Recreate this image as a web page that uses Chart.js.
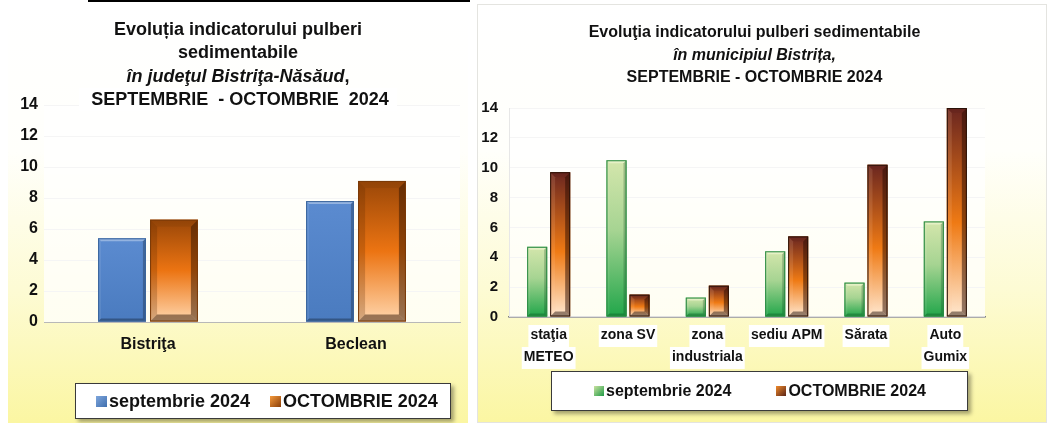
<!DOCTYPE html>
<html>
<head>
<meta charset="utf-8">
<script src="https://cdn.jsdelivr.net/npm/chart.js@4.4.1/dist/chart.umd.min.js"></script>
<style>
  html,body{margin:0;padding:0;background:#fff;width:1047px;height:423px;overflow:hidden;font-family:"Liberation Sans",Arial,sans-serif;}
  .panel{position:absolute;overflow:hidden;background:linear-gradient(to bottom,#ffffff 0%,#fffffb 35%,#fdfbd4 68%,#fbf6a2 100%);}
  #pl{left:8px;top:6px;width:460px;height:417px;}
  #pr{left:477px;top:4px;width:570px;height:419px;box-shadow:inset 0 0 0 1px #e4e4e0;}
  .cw{position:absolute;left:0;top:0;width:100%;height:100%;}
  .title{position:absolute;text-align:center;font-weight:bold;color:#111;}
  #tl{left:0;top:12px;width:460px;font-size:18px;line-height:23.3px;}
  #tr{left:0;top:17px;width:555px;font-size:16px;line-height:22.5px;}
  .title i{font-style:italic;}
  .wb{display:inline-block;background:#fff;padding:0 8px 0 12px;}
  .legend{position:absolute;background:#fff;border:1px solid #3a3a3a;box-shadow:3px 3px 4px rgba(0,0,0,0.35);display:flex;align-items:center;font-weight:bold;color:#111;box-sizing:border-box;}
  #ll{left:67px;top:377px;width:376px;height:36px;font-size:18px;padding-left:20px;}
  #lr{left:74px;top:367px;width:417px;height:40px;font-size:16px;padding-left:42px;}
  .mk{display:inline-block;margin-right:2px;}
  #ll .mk{width:11px;height:11px;}
  #lr .mk{width:10px;height:10px;}
  .m-blue{background:linear-gradient(135deg,#7ea6dc,#3f6fae);}
  .m-org{background:linear-gradient(135deg,#f59a3c,#8a3e08);}
  .m-grn{background:linear-gradient(135deg,#c9e2a0,#1f9a45);}
  .m-org2{background:linear-gradient(135deg,#f08a2a,#5a2418);}
  #topline{position:absolute;left:88px;top:0;width:382px;height:2px;background:#000;}
</style>
</head>
<body>
<div id="topline"></div>
<div class="panel" id="pl">
  <div class="cw"><canvas id="cl"></canvas></div>
  <div class="title" id="tl">Evoluția indicatorului pulberi<br>sedimentabile<br><i>în judeţul Bistriţa-Năsăud</i>,<br><span class="wb">SEPTEMBRIE&nbsp; - OCTOMBRIE&nbsp; 2024</span></div>
  <div class="legend" id="ll"><span class="mk m-blue"></span>septembrie 2024<span style="width:20px"></span><span class="mk m-org"></span>OCTOMBRIE 2024</div>
</div>
<div class="panel" id="pr">
  <div class="cw"><canvas id="cr"></canvas></div>
  <div class="title" id="tr">Evoluţia indicatorului pulberi sedimentabile<br><i>în municipiul Bistrița,</i><br>SEPTEMBRIE - OCTOMBRIE 2024</div>
  <div class="legend" id="lr"><span class="mk m-grn"></span>septembrie 2024<span style="width:45px"></span><span class="mk m-org2"></span>OCTOMBRIE 2024</div>
</div>
<script>
// ---- data ----
const leftCategories = ['Bistriţa', 'Beclean'];
const leftSeptembrie = [5.4, 7.8];
const leftOctombrie = [6.6, 9.1];

const rightCategories = [['staţia', 'METEO'], 'zona SV', ['zona', 'industriala'], 'sediu APM', 'Sărata', ['Auto', 'Gumix']];
const rightSeptembrie = [4.7, 10.5, 1.3, 4.4, 2.3, 6.4];
const rightOctombrie = [9.7, 1.5, 2.1, 5.4, 10.2, 14.0];

const seriesNames = ['septembrie 2024', 'OCTOMBRIE 2024'];
const yMin = 0, yMax = 14, yStep = 2;

// ---- styles ----
const styleBlue = {stops: [[0, '#5b8bd0'], [1, '#4a7bbf']], bevel: 3,
  top: 'rgba(255,255,255,0.35)', left: 'rgba(255,255,255,0.08)', right: 'rgba(0,0,0,0.25)', bottom: 'rgba(0,0,0,0.3)', border: '#3b659c'};
const styleOrangeL = {stops: [[0, '#9a4708'], [0.5, '#ec7412'], [1, '#ffd6ad']], bevel: 7,
  top: 'rgba(0,0,0,0.05)', left: 'rgba(90,40,0,0.25)', right: 'rgba(50,20,0,0.5)', bottom: 'rgba(70,40,20,0.55)', border: '#7a3a08'};
const styleGreen = {stops: [[0, '#d4e6ac'], [0.45, '#a6d492'], [1, '#21a64a']], bevel: 3,
  top: 'rgba(255,255,230,0.45)', left: 'rgba(255,255,255,0.08)', right: 'rgba(0,60,20,0.25)', bottom: 'rgba(0,40,10,0.25)', border: '#2b8a43'};
const styleOrangeR = {stops: [[0, '#6a2620'], [0.55, '#ef7a14'], [1, '#ffe8d0']], bevel: 5,
  top: 'rgba(0,0,0,0.05)', left: 'rgba(255,200,160,0.15)', right: 'rgba(40,10,0,0.5)', bottom: 'rgba(60,40,30,0.55)', border: '#2a1208'};

const bevelPlugin = {
  id: 'bevel',
  beforeDatasetsDraw(chart) {
    const a = chart.chartArea, ctx = chart.ctx;
    ctx.save();
    ctx.fillStyle = 'rgba(255,255,255,0.75)';
    ctx.fillRect(a.left, a.top, a.right - a.left, a.bottom - a.top);
    ctx.restore();
  },
  afterDatasetsDraw(chart) {
    const ctx = chart.ctx;
    const poly = (pts, c) => {ctx.beginPath(); ctx.moveTo(pts[0][0], pts[0][1]); for (let i = 1; i < pts.length; i++) ctx.lineTo(pts[i][0], pts[i][1]); ctx.closePath(); ctx.fillStyle = c; ctx.fill();};
    chart.data.datasets.forEach((ds, i) => {
      const st = ds.bevelStyle; if (!st) return;
      chart.getDatasetMeta(i).data.forEach(el => {
        const p = el.getProps(['x', 'y', 'base', 'width'], true);
        const l = p.x - p.width / 2, r = p.x + p.width / 2, t = Math.min(p.y, p.base), b = Math.max(p.y, p.base);
        const h = b - t, w = p.width;
        ctx.save();
        const g = ctx.createLinearGradient(0, t, 0, b);
        st.stops.forEach(s => g.addColorStop(s[0], s[1]));
        ctx.fillStyle = g; ctx.fillRect(l, t, w, h);
        const k = Math.min(st.bevel, w / 4, h / 2);
        poly([[l, t], [r, t], [r - k, t + k], [l + k, t + k]], st.top);
        poly([[l, t], [l + k, t + k], [l + k, b - k], [l, b]], st.left);
        poly([[r, t], [r, b], [r - k, b - k], [r - k, t + k]], st.right);
        poly([[l, b], [l + k, b - k], [r - k, b - k], [r, b]], st.bottom);
        ctx.strokeStyle = st.border; ctx.lineWidth = 1;
        ctx.strokeRect(l + 0.5, t + 0.5, w - 1, h - 1);
        ctx.restore();
      });
    });
  }
};

// white boxes behind each line of the x-axis labels (drawn before the scale text)
const labelBackdropPlugin = {
  id: 'labelBackdrop',
  beforeDraw(chart, args, opts) {
    if (!opts || !opts.enabled) return;
    const sc = chart.scales.x, ctx = chart.ctx;
    const items = sc.getLabelItems(chart.chartArea);
    ctx.save();
    ctx.fillStyle = opts.color || '#fff';
    items.forEach(it => {
      const lines = Array.isArray(it.label) ? it.label : [it.label];
      ctx.font = it.font.string;
      const lh = it.font.lineHeight;
      const tx = it.options.translation[0], ty = it.options.translation[1];
      const bl = it.options.textBaseline;
      lines.forEach((ln, j) => {
        const w = ctx.measureText(ln).width + 4;
        const cy = ty + it.textOffset + j * lh;
        let top = cy - lh / 2;
        if (bl === 'top') top = cy; else if (bl === 'bottom') top = cy - lh;
        ctx.fillRect(tx - w / 2, top + 1, w, lh);
      });
    });
    ctx.restore();
  }
};

function makeChart(id, cats, s1, s2, st1, st2, cfg) {
  return new Chart(document.getElementById(id), {
    type: 'bar',
    data: {
      labels: cats,
      datasets: [
        {label: seriesNames[0], data: s1, backgroundColor: st1.stops[st1.stops.length - 1][1], bevelStyle: st1, borderWidth: 0},
        {label: seriesNames[1], data: s2, backgroundColor: st2.stops[1][1], bevelStyle: st2, borderWidth: 0}
      ]
    },
    plugins: [bevelPlugin, labelBackdropPlugin],
    options: {
      responsive: true, maintainAspectRatio: false, animation: false, devicePixelRatio: 1,
      categoryPercentage: cfg.catPct, barPercentage: cfg.barPct,
      layout: {padding: cfg.padding},
      plugins: {legend: {display: false}, title: {display: false}, tooltip: {enabled: false},
        labelBackdrop: {enabled: cfg.backdrop, color: '#ffffff'}},
      scales: {
        x: {
          grid: {display: false, drawTicks: false},
          border: {display: true, color: cfg.xBorder, width: cfg.xBorderW},
          ticks: {color: '#111', font: {family: 'Liberation Sans', weight: 'bold', size: cfg.xFont, lineHeight: cfg.xLH},
            padding: cfg.xPad, maxRotation: 0, autoSkip: false},
          afterFit: s => {s.height = cfg.xH;}
        },
        y: {
          min: yMin, max: yMax,
          grid: {color: '#d6d6d6', lineWidth: 1, drawTicks: false},
          border: {display: cfg.yBorder, color: '#a0a0a0'},
          ticks: {stepSize: yStep, color: '#111', font: {family: 'Liberation Sans', weight: 'bold', size: cfg.yFont}, padding: cfg.yPad},
          afterFit: s => {s.width = cfg.yW;}
        }
      }
    }
  });
}

makeChart('cl', leftCategories, leftSeptembrie, leftOctombrie, styleBlue, styleOrangeL, {
  catPct: 0.5, barPercentage: 0.92, barPct: 0.92, padding: {top: 99, right: 8, bottom: 61, left: 0},
  xBorder: '#b8b8b8', xBorderW: 1, xFont: 16, xLH: 1.2, xPad: 13, backdrop: false, xH: 40,
  yBorder: false, yFont: 16, yPad: 6, yW: 36
});

makeChart('cr', rightCategories, rightSeptembrie, rightOctombrie, styleGreen, styleOrangeR, {
  catPct: 0.58, barPct: 0.87, padding: {top: 104, right: 62, bottom: 56, left: 0},
  xBorder: '#808080', xBorderW: 1.5, xFont: 14, xLH: 1.57, xPad: 7, backdrop: true, xH: 50,
  yBorder: true, yFont: 15, yPad: 11, yW: 32
});
</script>
</body>
</html>
